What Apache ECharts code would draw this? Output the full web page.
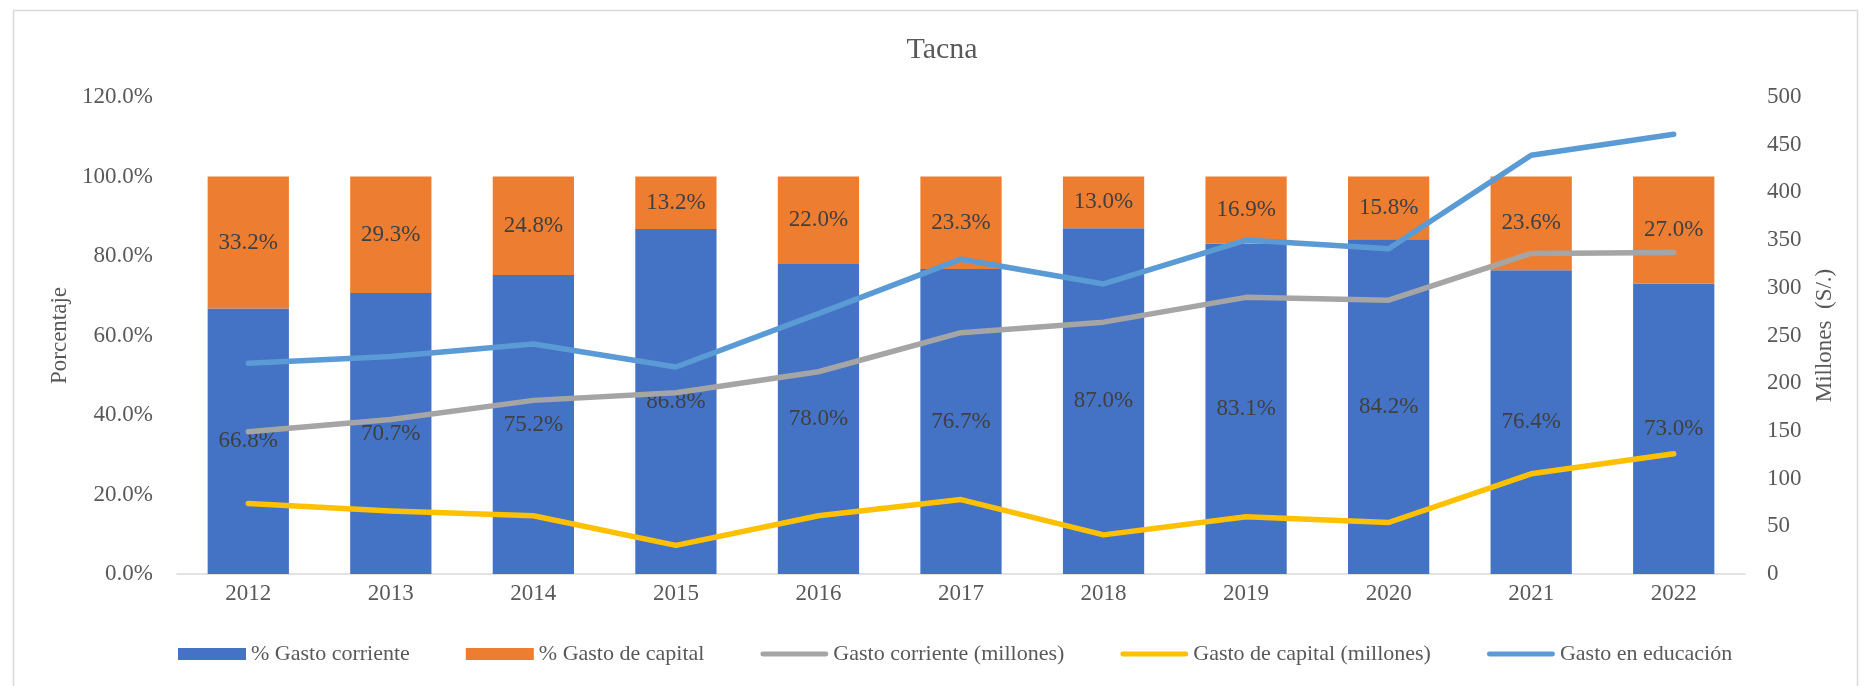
<!DOCTYPE html>
<html>
<head>
<meta charset="utf-8">
<script src="https://cdn.jsdelivr.net/npm/echarts@6/dist/echarts.min.js"></script>
<style>
  html, body { margin: 0; padding: 0; background: #fff; }
  #chart { width: 1870px; height: 686px; }
</style>
</head>
<body>
<div id="chart"></div>
<script>
// datos
const years = ["2012", "2013", "2014", "2015", "2016", "2017", "2018", "2019", "2020", "2021", "2022"];
const pctCorriente = [66.8, 70.7, 75.2, 86.8, 78.0, 76.7, 87.0, 83.1, 84.2, 76.4, 73.0];
const pctCapital = [33.2, 29.3, 24.8, 13.2, 22.0, 23.3, 13.0, 16.9, 15.8, 23.6, 27.0];
const gastoCorriente = [149, 162, 182, 190, 212, 253, 264, 290, 287, 336, 337];
const gastoCapital = [74, 66, 61, 30, 61, 78, 41, 60, 54, 105, 126];
const gastoEducacion = [221, 228, 241, 217, 273, 330, 304, 350, 341, 439, 461];

const font = "'Liberation Serif', 'Times New Roman', serif";
const txt = "#595959";
// icono de línea para la leyenda (franja fina centrada, la caja sigue siendo 68x12)
const lineIcon = "path://M0,0L68,0L68,0.01Z M2,3.5L66,3.5A2.5,2.5,0,0,1,66,8.5L2,8.5A2.5,2.5,0,0,1,2,3.5Z M0,12L68,12L68,11.99Z";

const chart = echarts.init(document.getElementById("chart"));

function barLabel() {
  return {
    show: true,
    position: "inside",
    color: "#404040",
    fontFamily: font,
    fontSize: 23,
    formatter: (p) => p.value.toFixed(1) + "%",
  };
}

function lineSerie(name, data, color) {
  return {
    name: name,
    type: "line",
    yAxisIndex: 1,
    data: data,
    symbol: "none",
    z: 3,
    lineStyle: { color: color, width: 5.5, cap: "round", join: "round" },
    itemStyle: { color: color },
  };
}

chart.setOption({
  backgroundColor: "#fff",
  animation: false,
  graphic: [
    {
      type: "rect",
      shape: { x: 13.5, y: 10.5, width: 1844, height: 690 },
      style: { fill: "none", stroke: "#D9D9D9", lineWidth: 1.5 },
      silent: true,
    },
  ],
  title: {
    text: "Tacna",
    left: 937,
    top: 30,
    textAlign: "center",
    textStyle: { fontFamily: font, fontSize: 30, fontWeight: "normal", color: txt },
  },
  legend: {
    bottom: 16,
    left: 173,
    itemGap: 56,
    itemWidth: 68,
    itemHeight: 12,
    textStyle: { fontFamily: font, fontSize: 22, color: txt },
    data: [
      { name: "% Gasto corriente", icon: "rect" },
      { name: "% Gasto de capital", icon: "rect" },
      { name: "Gasto corriente (millones)", icon: lineIcon },
      { name: "Gasto de capital (millones)", icon: lineIcon },
      { name: "Gasto en educación", icon: lineIcon },
    ],
  },
  grid: { left: 177, right: 125, top: 97, bottom: 112 },
  xAxis: {
    type: "category",
    data: years,
    axisLine: { lineStyle: { color: "#D9D9D9", width: 1.5 } },
    axisTick: { show: false },
    axisLabel: { fontFamily: font, fontSize: 23, color: txt, margin: 8 },
  },
  yAxis: [
    {
      type: "value",
      min: 0,
      max: 120,
      interval: 20,
      name: "Porcentaje",
      nameLocation: "middle",
      nameGap: 104,
      nameTextStyle: { fontFamily: font, fontSize: 23, color: txt },
      splitLine: { show: false },
      axisLine: { show: false },
      axisTick: { show: false },
      axisLabel: {
        fontFamily: font,
        fontSize: 23,
        color: txt,
        margin: 24,
        formatter: (v) => v.toFixed(1) + "%",
      },
    },
    {
      type: "value",
      min: 0,
      max: 500,
      interval: 50,
      name: "Millones  (S/.)",
      nameLocation: "middle",
      nameGap: 68,
      nameTextStyle: { fontFamily: font, fontSize: 23, color: txt },
      splitLine: { show: false },
      axisLine: { show: false },
      axisTick: { show: false },
      axisLabel: { fontFamily: font, fontSize: 23, color: txt, margin: 22 },
    },
  ],
  series: [
    {
      name: "% Gasto corriente",
      type: "bar",
      stack: "pct",
      barWidth: "57%",
      data: pctCorriente,
      itemStyle: { color: "#4472C4" },
      label: barLabel(),
    },
    {
      name: "% Gasto de capital",
      type: "bar",
      stack: "pct",
      data: pctCapital,
      itemStyle: { color: "#ED7D31" },
      label: barLabel(),
    },
    lineSerie("Gasto corriente (millones)", gastoCorriente, "#A5A5A5"),
    lineSerie("Gasto de capital (millones)", gastoCapital, "#FFC000"),
    lineSerie("Gasto en educación", gastoEducacion, "#5B9BD5"),
  ],
});
</script>
</body>
</html>
